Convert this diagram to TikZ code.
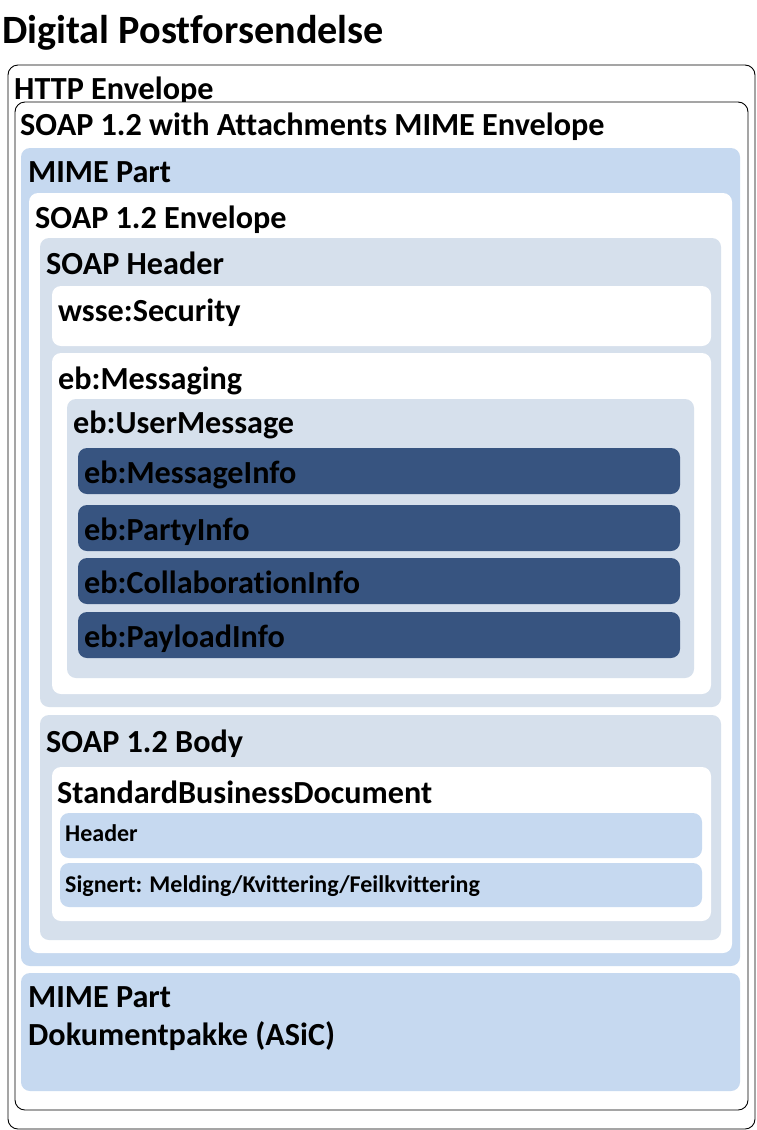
\documentclass[tikz,border=0pt]{standalone}
\usepackage{fontspec}
\setmainfont{Carlito}[Ligatures={NoCommon}]
\definecolor{mimeblue}{HTML}{C6D9F0}
\definecolor{hdrgray}{HTML}{D6E0EC}
\definecolor{darkblue}{HTML}{375480}
\tikzset{
  frame/.style={draw=black, line width=0.9pt, fill=white, rounded corners=10pt},
  pane/.style={fill=#1, rounded corners=9pt},
  lbl/.style={anchor=base west, inner sep=0pt, font=\bfseries\fontsize{32.2}{38}\selectfont},
  smalllbl/.style={anchor=base west, inner sep=0pt, font=\bfseries\fontsize{24}{28}\selectfont},
  titlelbl/.style={anchor=base west, inner sep=0pt, font=\bfseries\fontsize{40.2}{48}\selectfont},
}
\begin{document}
\begin{tikzpicture}[x=1pt,y=-1pt]
\useasboundingbox (0,0) rectangle (756,1130);
\node[titlelbl] (title) at (2,43) {Digital Postforsendelse};
% HTTP envelope
\path[frame] (8,65) rectangle (755,1129);
\node[lbl] (http) at (14,99) {HTTP Envelope};
% SOAP with attachments
\path[frame] (15,102) rectangle (748,1110);
\node[lbl] (soapatt) at (20,135) {SOAP 1.2 with Attachments MIME Envelope};
% MIME part 1
\path[pane=mimeblue] (21,148) rectangle (740,966);
\node[lbl] (mime1) at (28,182) {MIME Part};
% SOAP envelope
\path[pane=white] (29,193) rectangle (732,953);
\node[lbl] (soapenv) at (35,228) {SOAP 1.2 Envelope};
% SOAP header
\path[pane=hdrgray] (40,238) rectangle (721,707);
\node[lbl] (soaphdr) at (46,274) {SOAP Header};
% wsse
\path[pane=white] (52,286) rectangle (711,346);
\node[lbl] (wsse) at (58,321) {wsse:Security};
% eb:Messaging
\path[pane=white] (52,353) rectangle (711,694);
\node[lbl] (ebmsg) at (58,389) {eb:Messaging};
% eb:UserMessage
\path[pane=hdrgray] (67,399) rectangle (694,678);
\node[lbl] (ebuser) at (73,433) {eb:UserMessage};
% dark boxes
\path[pane=darkblue] (78,448) rectangle (680,494);
\node[lbl] (ebmi) at (84,483) {eb:MessageInfo};
\path[pane=darkblue] (78,505) rectangle (680,551);
\node[lbl] (ebpi) at (84,540) {eb:PartyInfo};
\path[pane=darkblue] (78,558) rectangle (680,604);
\node[lbl] (ebci) at (84,593) {eb:CollaborationInfo};
\path[pane=darkblue] (78,612) rectangle (680,658);
\node[lbl] (ebpl) at (84,647) {eb:PayloadInfo};
% SOAP body
\path[pane=hdrgray] (40,715) rectangle (721,940);
\node[lbl] (soapbody) at (46,752) {SOAP 1.2 Body};
% SBD
\path[pane=white] (52,767) rectangle (711,921);
\node[lbl] (sbd) at (57,803) {StandardBusinessDocument};
\path[pane=mimeblue] (60,813) rectangle (702,858);
\node[smalllbl] (sbdh) at (65,841) {Header};
\path[pane=mimeblue] (60,863) rectangle (702,907);
\node[smalllbl] (sign) at (65,892) {Signert: Melding/Kvittering/Feilkvittering};
% MIME part 2
\path[pane=mimeblue] (21,973) rectangle (740,1091);
\node[lbl] (mime2) at (28,1007) {MIME Part};
\node[lbl] (asic) at (28,1045) {Dokumentpakke (ASiC)};
\end{tikzpicture}
\end{document}
